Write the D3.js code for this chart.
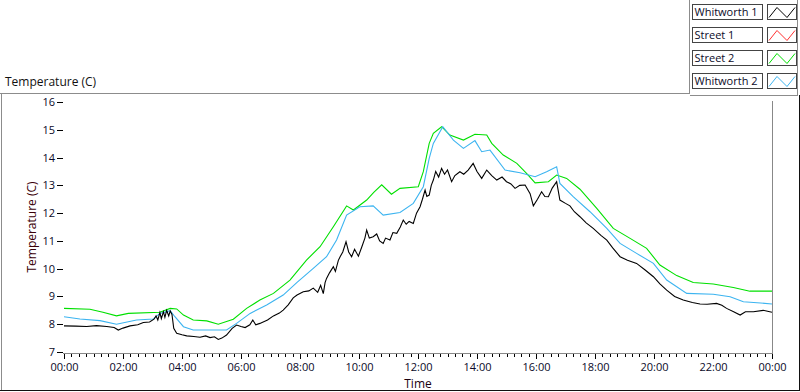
<!DOCTYPE html>
<html>
<head>
<meta charset="utf-8">
<script src="https://cdn.jsdelivr.net/npm/d3@7"></script>
<style>
  body { margin: 0; background: #fff; }
  svg { display: block; font-family: "Open Sans", "Noto Sans", sans-serif; }
</style>
</head>
<body>
<div id="chart"></div>
<script>
const width = 800;
const height = 392;

// [hour, temperature]
const whitworth1 = [[0,7.94],[0.4,7.93],[0.77,7.92],[1.1,7.95],[1.45,7.92],[1.7,7.88],[1.84,7.79],[2.0,7.86],[2.24,7.94],[2.5,7.98],[2.69,8.06],[2.9,8.08],[3.05,8.18],[3.12,8.3],[3.18,8.15],[3.25,8.42],[3.3,8.2],[3.37,8.45],[3.42,8.25],[3.48,8.5],[3.55,8.3],[3.6,8.48],[3.66,8.35],[3.72,7.85],[3.82,7.67],[4.0,7.62],[4.16,7.58],[4.4,7.56],[4.61,7.53],[4.8,7.58],[4.95,7.52],[5.1,7.55],[5.23,7.45],[5.35,7.5],[5.51,7.61],[5.7,7.85],[5.85,7.97],[6.0,7.92],[6.14,7.88],[6.3,7.98],[6.4,8.15],[6.5,7.98],[6.64,8.03],[6.9,8.15],[7.1,8.3],[7.3,8.4],[7.43,8.51],[7.6,8.7],[7.77,8.95],[7.9,9.05],[8.11,9.17],[8.3,9.2],[8.45,9.3],[8.6,9.15],[8.7,9.4],[8.79,9.1],[8.85,9.5],[8.9,9.65],[9.0,9.85],[9.13,10.07],[9.2,9.9],[9.3,10.3],[9.36,10.43],[9.45,10.6],[9.56,10.97],[9.65,10.6],[9.75,10.43],[9.85,10.7],[9.98,10.45],[10.1,10.8],[10.2,11.1],[10.26,11.39],[10.35,11.1],[10.48,11.15],[10.6,11.25],[10.7,11.0],[10.82,10.91],[10.9,11.1],[11.05,11.03],[11.15,11.3],[11.28,11.27],[11.4,11.5],[11.5,11.75],[11.6,11.6],[11.7,11.7],[11.84,11.63],[11.95,12.0],[12.07,12.23],[12.15,12.5],[12.24,12.83],[12.3,12.6],[12.38,12.65],[12.45,13.0],[12.52,13.19],[12.6,13.5],[12.7,13.3],[12.8,13.61],[12.9,13.4],[13.0,13.55],[13.14,13.13],[13.25,13.35],[13.42,13.49],[13.55,13.4],[13.7,13.55],[13.87,13.79],[14.0,13.5],[14.16,13.25],[14.33,13.55],[14.5,13.35],[14.67,13.19],[14.85,13.3],[15.0,13.13],[15.15,13.05],[15.29,12.89],[15.45,13.0],[15.63,13.01],[15.8,12.7],[15.91,12.26],[16.05,12.5],[16.19,12.77],[16.3,12.6],[16.42,12.59],[16.55,12.9],[16.7,13.13],[16.81,12.47],[17.0,12.35],[17.15,12.26],[17.3,12.05],[17.49,11.87],[17.7,11.65],[17.94,11.45],[18.2,11.2],[18.4,11.03],[18.6,10.75],[18.85,10.43],[19.1,10.3],[19.41,10.19],[19.7,9.95],[19.98,9.71],[20.2,9.45],[20.43,9.23],[20.7,9.0],[20.99,8.87],[21.3,8.78],[21.56,8.73],[21.8,8.72],[22.12,8.75],[22.3,8.68],[22.46,8.57],[22.7,8.45],[22.92,8.33],[23.1,8.45],[23.37,8.45],[23.7,8.5],[24,8.43]];

const street1 = []; // nothing visible on the plot

const street2 = [[0,8.57],[0.88,8.54],[1.32,8.43],[1.78,8.3],[2.18,8.39],[3.25,8.43],[3.6,8.57],[3.82,8.55],[4.05,8.33],[4.38,8.15],[4.84,8.12],[5.23,8.0],[5.74,8.18],[6.19,8.57],[6.64,8.87],[7.1,9.11],[7.66,9.59],[8.22,10.31],[8.68,10.79],[9.13,11.51],[9.58,12.26],[9.81,12.11],[10.26,12.47],[10.5,12.75],[10.77,13.02],[11.1,12.68],[11.39,12.89],[12.01,12.95],[12.18,13.49],[12.38,14.51],[12.52,14.87],[12.8,15.11],[13.08,14.81],[13.54,14.63],[13.93,14.84],[14.33,14.81],[14.5,14.51],[14.89,14.09],[15.35,13.79],[15.68,13.43],[15.97,13.09],[16.42,13.13],[16.7,13.37],[17.04,13.25],[17.49,12.86],[18.06,12.17],[18.62,11.45],[19.19,11.09],[19.75,10.73],[20.2,10.13],[20.77,9.75],[21.33,9.5],[22.01,9.45],[22.69,9.32],[23.25,9.19],[24,9.19]];

const whitworth2 = [[0,8.27],[0.54,8.19],[1.22,8.13],[1.78,8.0],[2.46,8.15],[3.03,8.19],[3.25,8.39],[3.6,8.49],[3.76,8.27],[4.05,7.91],[4.38,7.79],[5.51,7.79],[5.85,8.03],[6.31,8.39],[6.87,8.69],[7.43,9.05],[7.89,9.5],[8.45,10.01],[8.9,10.43],[9.24,11.03],[9.58,11.93],[10.03,12.23],[10.48,12.26],[10.82,11.93],[11.39,12.02],[11.84,12.35],[12.18,12.95],[12.38,13.97],[12.52,14.51],[12.84,15.11],[13.2,14.63],[13.54,14.33],[13.93,14.61],[14.16,14.21],[14.44,14.27],[14.95,13.55],[15.46,13.45],[15.97,13.31],[16.36,13.49],[16.7,13.67],[16.81,13.07],[17.26,12.59],[17.83,12.05],[18.4,11.45],[18.85,10.91],[19.41,10.55],[19.98,10.19],[20.43,9.59],[21.11,9.11],[22.01,9.08],[22.58,8.99],[23.03,8.81],[24,8.73]];

const seriesNames = ["Whitworth 1", "Street 1", "Street 2", "Whitworth 2"];
const yTicks = [7, 8, 9, 10, 11, 12, 13, 14, 15, 16];
const xTicks = [0, 2, 4, 6, 8, 10, 12, 14, 16, 18, 20, 22, 24];

const colors = ["#000000", "#ff3030", "#00e000", "#3cb4f0"];
const seriesData = [whitworth1, street1, street2, whitworth2];

const svg = d3.select("#chart")
  .append("svg")
  .attr("width", width)
  .attr("height", height);

const x = d3.scaleLinear().domain([0, 24]).range([64, 772]);
const y = d3.scaleLinear().domain([7, 16]).range([352, 102]);

// panel frame
const frame = svg.append("g").attr("fill", "none").attr("shape-rendering", "crispEdges");
frame.append("path").attr("d", "M0,93.5H689.5V0").attr("stroke", "#8c8c8c");
frame.append("path").attr("d", "M689.5,95.5H797.5V0").attr("stroke", "#8c8c8c");
frame.append("path").attr("d", "M1.5,93V390").attr("stroke", "#8c8c8c");
frame.append("path").attr("d", "M0,390.5H799.5V95").attr("stroke", "#111");

svg.append("text")
  .attr("x", 5)
  .attr("y", 86)
  .attr("font-size", "12px")
  .attr("fill", "#111")
  .text("Temperature (C)");

// plot background
svg.append("rect")
  .attr("x", 63).attr("y", 101)
  .attr("width", 772 - 63).attr("height", 353 - 101)
  .attr("fill", "#fff");

// series
const line = d3.line()
  .x(d => x(d[0]))
  .y(d => y(d[1]));

const order = [2, 3, 1, 0];
order.forEach(i => {
  svg.append("path")
    .datum(seriesData[i])
    .attr("fill", "none")
    .attr("stroke", colors[i])
    .attr("stroke-width", 1.1)
    .attr("d", line);
});

// plot border: dark top/left, grey bottom/right
frame.append("path").attr("d", "M63.5,353V101.5H772").attr("stroke", "#000");
frame.append("path").attr("d", "M63,353.5H772.5V101").attr("stroke", "#888");

// y axis
const yAxis = svg.append("g")
  .attr("transform", "translate(63,0)")
  .call(d3.axisLeft(y).tickValues(yTicks).tickSize(6).tickPadding(2).tickFormat(d3.format("d")));
yAxis.select(".domain").remove();
yAxis.selectAll("text").attr("font-size", "11px").attr("font-family", "Open Sans, sans-serif").attr("fill", "#0a0a28");
yAxis.selectAll("line").attr("stroke", "#000").attr("shape-rendering", "crispEdges");

// x axis, major and minor ticks
const fmtHour = h => String(h % 24).padStart(2, "0") + ":00";
const minorTicks = d3.range(0, 24.01, 0.25).filter(h => h % 2 !== 0);

const xMinor = svg.append("g")
  .attr("transform", "translate(0,354)")
  .call(d3.axisBottom(x).tickValues(minorTicks).tickSize(3).tickFormat(""));
xMinor.select(".domain").remove();

const xAxis = svg.append("g")
  .attr("transform", "translate(0,354)")
  .call(d3.axisBottom(x).tickValues(xTicks).tickSize(5).tickPadding(4).tickFormat(fmtHour));
xAxis.select(".domain").remove();
xAxis.selectAll("text").attr("font-size", "11px").attr("font-family", "Open Sans, sans-serif").attr("fill", "#0a0a28");
svg.selectAll(".tick line").attr("stroke", "#000").attr("shape-rendering", "crispEdges");

// axis titles
svg.append("text")
  .attr("x", x(12))
  .attr("y", 388)
  .attr("text-anchor", "middle")
  .attr("font-size", "12px")
  .attr("fill", "#1a0010")
  .text("Time");

svg.append("text")
  .attr("transform", `translate(36,${y(11.5)}) rotate(-90)`)
  .attr("text-anchor", "middle")
  .attr("font-size", "12px")
  .attr("fill", "#3a0008")
  .text("Temperature (C)");

// legend
const legend = svg.append("g").attr("id", "legend");
seriesNames.forEach((name, i) => {
  const top = 4.5 + i * 23;
  const g = legend.append("g").attr("transform", `translate(0,${top})`);

  g.append("rect")
    .attr("x", 692.5).attr("y", 0)
    .attr("width", 70).attr("height", 15)
    .attr("fill", "#fff").attr("stroke", "#444")
    .attr("shape-rendering", "crispEdges");
  g.append("text")
    .attr("x", 694.5).attr("y", 11.5)
    .attr("font-size", "11px")
    .attr("fill", "#0a0a28")
    .text(name);

  g.append("rect")
    .attr("x", 767.5).attr("y", 0)
    .attr("width", 29).attr("height", 15)
    .attr("fill", "#fff").attr("stroke", "#444")
    .attr("shape-rendering", "crispEdges");
  g.append("path")
    .attr("d", "M769,13L777,3L787,13L795,3")
    .attr("fill", "none")
    .attr("stroke", colors[i]);
});
</script>
</body>
</html>
